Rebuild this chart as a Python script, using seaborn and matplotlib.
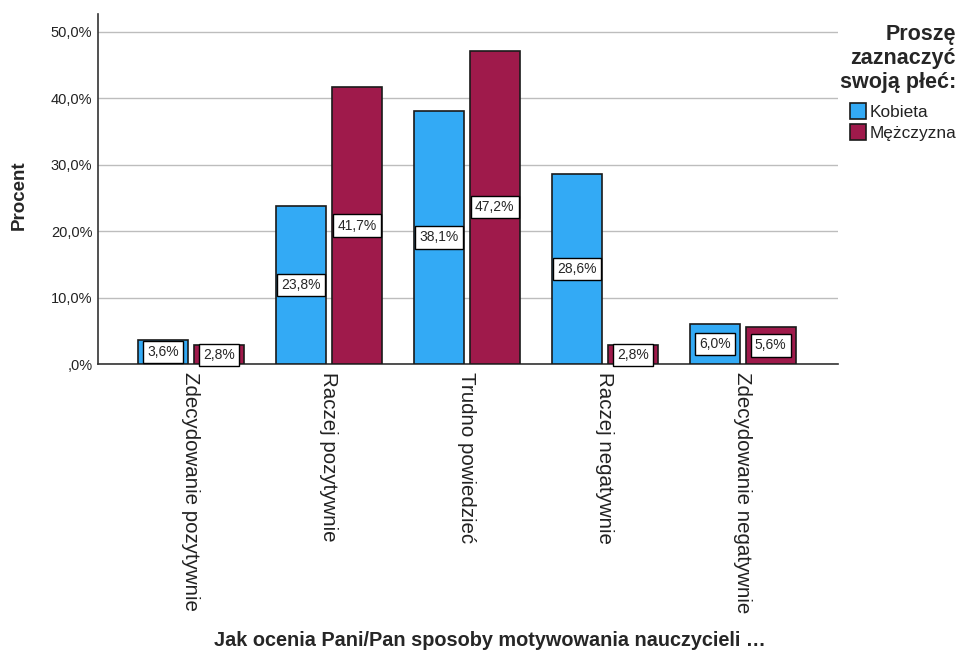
import matplotlib
matplotlib.use("Agg")
import matplotlib.pyplot as plt
import seaborn as sns
import pandas as pd
from matplotlib.ticker import FuncFormatter

categories = ["Zdecydowanie pozytywnie", "Raczej pozytywnie", "Trudno powiedzieć",
              "Raczej negatywnie", "Zdecydowanie negatywnie"]
kobieta = [3.6, 23.8, 38.1, 28.6, 6.0]
mezczyzna = [2.8, 41.7, 47.2, 2.8, 5.6]
groups = ["Kobieta", "Mężczyzna"]
colors = ["#33aaf5", "#9f1a4b"]

df = pd.DataFrame({
    "cat": categories * 2,
    "val": kobieta + mezczyzna,
    "grp": [groups[0]] * 5 + [groups[1]] * 5,
})

sns.set_style("white")
plt.rcParams["font.family"] = ["Liberation Sans", "DejaVu Sans"]

fig = plt.figure(figsize=(9.58, 6.57), dpi=100)
ax = fig.add_axes([98 / 958, 1 - 364 / 657, (838 - 98) / 958, (364 - 14) / 657])

sns.barplot(data=df, x="cat", y="val", hue="grp", order=categories, hue_order=groups,
            palette=colors, saturation=1, width=0.81, gap=0.1, edgecolor="#1a1a1a",
            linewidth=1.2, ax=ax, zorder=3, legend=True)

ax.set_ylim(0, 52.7)
ax.set_xlim(-0.674, 4.69)
ax.set_yticks([0, 10, 20, 30, 40, 50])
ax.yaxis.set_major_formatter(FuncFormatter(
    lambda v, p: ",0%" if v == 0 else f"{v:.1f}%".replace(".", ",")))
ax.tick_params(axis="y", length=0, labelsize=10.5, colors="#222222", pad=4)
ax.tick_params(axis="x", length=0, labelsize=14.8, colors="#222222", pad=6)
for lab in ax.get_xticklabels():
    lab.set_rotation(-90)
    lab.set_va("top")
    lab.set_ha("center")

ax.grid(axis="y", color="#bdbdbd", linewidth=1, zorder=0)
ax.set_axisbelow(True)
for s in ["top", "right"]:
    ax.spines[s].set_visible(False)
for s in ["left", "bottom"]:
    ax.spines[s].set_color("#333333")
    ax.spines[s].set_linewidth(1.2)

ax.set_ylabel("Procent", fontsize=13.5, fontweight="bold")
ax.yaxis.set_label_coords(-70 / 740, (364 - 195) / 350)
ax.set_xlabel("Jak ocenia Pani/Pan sposoby motywowania nauczycieli …",
              fontsize=14.3, fontweight="bold")
ax.xaxis.set_label_coords((490 - 98) / 740, -(640 - 364) / 350)
ax.xaxis.label.set_va("center")

for cont in ax.containers:
    for bar in cont:
        h = bar.get_height()
        ax.text(bar.get_x() + bar.get_width() / 2, h / 2,
                f"{h:.1f}%".replace(".", ","), ha="center", va="center", fontsize=10,
                zorder=5,
                bbox=dict(boxstyle="square,pad=0.3", facecolor="white",
                          edgecolor="black", linewidth=1))

leg = ax.legend(title="Proszę\nzaznaczyć\nswoją płeć:", loc="upper right",
                bbox_to_anchor=((956 - 98) / 740, 1.0 - 10 / 350),
                frameon=False, fontsize=12.4,
                title_fontproperties={"weight": "bold", "size": 15.5},
                handlelength=0.9, handleheight=1.0, handletextpad=0.2,
                labelspacing=0.25, borderaxespad=0.0, borderpad=0.0,
                alignment="right")
leg._legend_box.align = "right"
leg._legend_box.sep = leg._legend_box.sep + 4
leg.get_title().set_multialignment("right")
for t in leg.get_texts():
    t.set_color("#222222")
for h in leg.legend_handles:
    h.set_edgecolor("#1a1a1a")

fig.savefig("out.png", dpi=100)
